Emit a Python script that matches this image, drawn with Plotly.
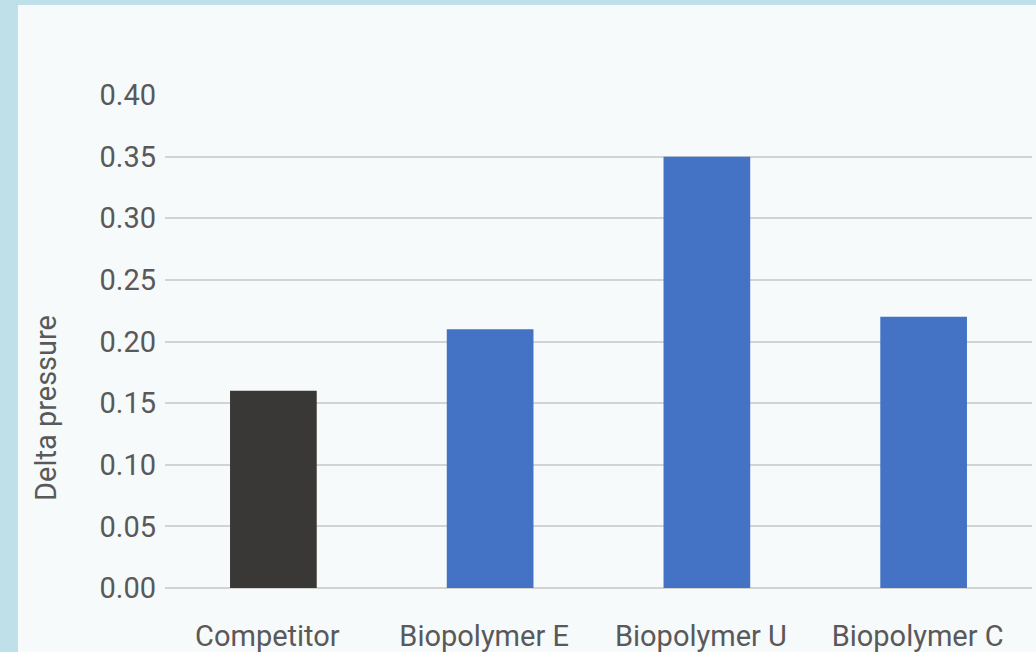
import plotly.graph_objects as go

categories = ["Competitor", "Biopolymer E", "Biopolymer U", "Biopolymer C"]
values = [0.16, 0.21, 0.35, 0.22]
bar_colors = ["#3a3836", "#4472c4", "#4472c4", "#4472c4"]
y_ticks = [0.0, 0.05, 0.10, 0.15, 0.20, 0.25, 0.30, 0.35, 0.40]
y_title = "Delta pressure"

W, H = 1036, 652
ml, mr, mt, mb = 165, 4, 95, 64
pw, ph = W - ml - mr, H - mt - mb

fig = go.Figure(go.Bar(x=categories, y=values, marker_color=bar_colors,
                       marker_line_width=0, width=0.4))

fig.update_layout(
    width=W, height=H,
    margin=dict(l=ml, r=mr, t=mt, b=mb, autoexpand=False),
    paper_bgcolor="#bfe0e8",
    plot_bgcolor="rgba(0,0,0,0)",
    font=dict(family="Roboto", color="#595959", size=29),
    showlegend=False,
    shapes=[dict(type="rect", layer="below", xref="paper", yref="paper",
                 x0=(18 - ml) / pw, x1=1.2, y0=-0.3, y1=(H - mb - 5) / ph,
                 fillcolor="#f7fafb", line_width=0)],
    annotations=[dict(text=y_title, textangle=-90, xref="paper", yref="paper",
                      x=(46 - ml) / pw, y=(H - mb - 408) / ph,
                      xanchor="center", yanchor="middle", showarrow=False,
                      font=dict(size=29, color="#595959"))],
)
fig.update_xaxes(showgrid=False, showline=False, ticks="", ticklabelstandoff=28,
                 ticklabelshift=-6, tickfont=dict(size=29), automargin=False)
fig.update_yaxes(range=[0, 0.4], tickvals=y_ticks, tickformat=".2f",
                 showgrid=True, gridcolor="#d3d3d3", gridwidth=1.5,
                 zeroline=True, zerolinecolor="#d3d3d3", zerolinewidth=1.5,
                 ticklabelstandoff=8, tickfont=dict(size=29), automargin=False)

fig.write_html("out.html", config={"displayModeBar": False},
               post_script="document.body.style.margin='0';")
